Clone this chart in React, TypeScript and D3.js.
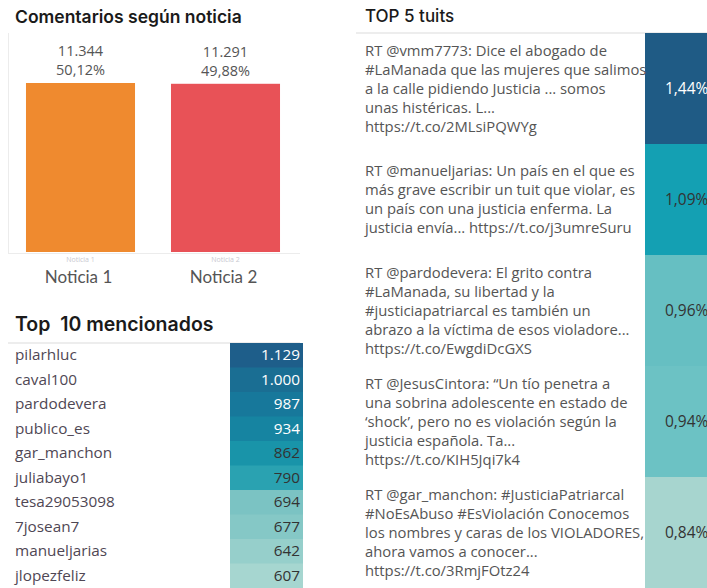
import React from "react";
import * as d3 from "d3";

const noticias = ["Noticia 1", "Noticia 2"];
const comentarios = [11344, 11291];
const porcentajes = [50.12, 49.88];

const mencionados = [
  "pilarhluc", "caval100", "pardodevera", "publico_es", "gar_manchon",
  "juliabayo1", "tesa29053098", "7josean7", "manueljarias", "jlopezfeliz",
];
const menciones = [1129, 1000, 987, 934, 862, 790, 694, 677, 642, 607];

const tuits: string[][] = [
  [
    "RT @vmm7773: Dice el abogado de",
    "#LaManada que las mujeres que salimos",
    "a la calle pidiendo Justicia ... somos",
    "unas histéricas.  L...",
    "https://t.co/2MLsiPQWYg",
  ],
  [
    "RT @manueljarias: Un país en el que es",
    "más grave escribir un tuit que violar, es",
    "un país con una justicia enferma.  La",
    "justicia envía... https://t.co/j3umreSuru",
  ],
  [
    "RT @pardodevera: El grito contra",
    "#LaManada, su libertad y la",
    "#justiciapatriarcal es también un",
    "abrazo a la víctima de esos violadore...",
    "https://t.co/EwgdiDcGXS",
  ],
  [
    "RT @JesusCintora: “Un tío penetra a",
    "una sobrina adolescente en estado de",
    "‘shock’, pero no es violación según la",
    "justicia española. Ta...",
    "https://t.co/KIH5Jqi7k4",
  ],
  [
    "RT @gar_manchon: #JusticiaPatriarcal",
    "#NoEsAbuso #EsViolación Conocemos",
    "los nombres y caras de los VIOLADORES,",
    "ahora vamos a conocer...",
    "https://t.co/3RmjFOtz24",
  ],
];
const tuitPct = [1.44, 1.09, 0.96, 0.94, 0.84];

// styles
const barColors = ["#ef8a2f", "#e85257"];
const mencionColors = [
  "#1e5e8a", "#1a6e93", "#17789b", "#1684a1", "#1994a9",
  "#2aa2b1", "#7bc3c3", "#85c8c6", "#96cfcb", "#a6d6d0",
];
const tuitColors = ["#1f5b85", "#14a0b3", "#66bfc2", "#6cc2c4", "#a7d5cf"];
const mencionText = ["#fff", "#fff", "#fff", "#fff", "#333", "#333", "#333", "#333", "#333", "#333"];
const tuitText = ["#fff", "#333", "#333", "#333", "#333"];

const es = d3.formatLocale({ decimal: ",", thousands: ".", grouping: [3], currency: ["", "€"] });
const fmtInt = es.format(",d");
const fmtPct = es.format(".2f");

const titleFont = "Inter, Lato, 'DejaVu Sans', sans-serif";
const catFont = "Lato, 'DejaVu Sans', sans-serif";
const bodyFont = "'Open Sans', 'Noto Sans', sans-serif";

export default function App() {
  // bar chart
  const x = d3.scaleBand<string>().domain(noticias).range([8, 298]).paddingInner(0.248).paddingOuter(0.124);
  const y = d3.scaleLinear().domain([0, d3.max(comentarios) as number]).range([252, 83]);

  // top 10 table
  const rowY = d3.scaleBand<string>().domain(mencionados).range([343, 588]);

  // top 5 tuits
  const tuitY = d3.scaleBand<number>().domain(d3.range(tuits.length)).range([33, 588]);
  const lineH = 19;

  return (
    <svg width={707} height={588} style={{ position: "absolute", left: 0, top: 0, background: "#fff" }}>
      {/* Comentarios según noticia */}
      <text x={15} y={23} fontFamily={titleFont} fontWeight={600} fontSize={17.5} fill="#1a1a1a">
        Comentarios según noticia
      </text>
      <line x1={8.5} x2={8.5} y1={33} y2={253} stroke="#ececec" />
      <line x1={8} x2={300} y1={253.5} y2={253.5} stroke="#ececec" />
      {noticias.map((n, i) => {
        const bx = x(n) as number;
        const bw = x.bandwidth();
        const top = y(comentarios[i]);
        return (
          <g key={n}>
            <rect x={bx} y={top} width={bw} height={y(0) - top} fill={barColors[i]} />
            <text x={bx + bw / 2} y={top - 27} textAnchor="middle" fontFamily={bodyFont} fontSize={14.5} fill="#555">
              {fmtInt(comentarios[i])}
            </text>
            <text x={bx + bw / 2} y={top - 8} textAnchor="middle" fontFamily={bodyFont} fontSize={14.5} fill="#555">
              {fmtPct(porcentajes[i]) + "%"}
            </text>
            <text x={bx + bw / 2} y={262} textAnchor="middle" fontFamily={bodyFont} fontSize={7} fill="#c8c8d0">
              {n}
            </text>
            <text x={bx + bw / 2 - 2} y={283} textAnchor="middle" fontFamily={catFont} fontSize={17} fill="#555">
              {n}
            </text>
          </g>
        );
      })}

      {/* Top 10 mencionados */}
      <text x={15} y={331} fontFamily={titleFont} fontWeight={600} fontSize={19.5} fill="#1a1a1a" style={{ whiteSpace: "pre" }}>
        {"Top  10 mencionados"}
      </text>
      <line x1={8} x2={300} y1={343} y2={343} stroke="#dcdcdc" strokeWidth={1.2} />
      {mencionados.map((m, i) => {
        const ry = rowY(m) as number;
        const h = rowY.bandwidth();
        return (
          <g key={m}>
            <rect x={230} y={ry} width={73} height={h + 0.5} fill={mencionColors[i]} />
            <text x={15} y={ry + h / 2 + 5} fontFamily={bodyFont} fontSize={15.3} fill="#4f4754">
              {m}
            </text>
            <text x={300} y={ry + h / 2 + 5} textAnchor="end" fontFamily={bodyFont} fontSize={15.3} fill={mencionText[i]}>
              {fmtInt(menciones[i])}
            </text>
          </g>
        );
      })}

      {/* TOP 5 tuits */}
      <text x={365} y={22} fontFamily={titleFont} fontWeight={500} fontSize={17} fill="#1a1a1a">
        TOP 5 tuits
      </text>
      <line x1={356} x2={707} y1={33} y2={33} stroke="#dcdcdc" strokeWidth={1.2} />
      {tuits.map((lines, i) => {
        const ry = tuitY(i) as number;
        const h = tuitY.bandwidth();
        const cy = ry + h / 2;
        const first = cy - ((lines.length - 1) / 2) * lineH;
        return (
          <g key={i}>
            <rect x={645} y={ry} width={62} height={h + 0.5} fill={tuitColors[i]} />
            {lines.map((l, j) => (
              <text key={j} x={365} y={first + j * lineH + 5} fontFamily={bodyFont} fontSize={14.8} fill="#555">
                {l}
              </text>
            ))}
            <text x={665} y={cy + 5} fontFamily={bodyFont} fontSize={15.5} fill={tuitText[i]}>
              {fmtPct(tuitPct[i]) + "%"}
            </text>
          </g>
        );
      })}
    </svg>
  );
}
